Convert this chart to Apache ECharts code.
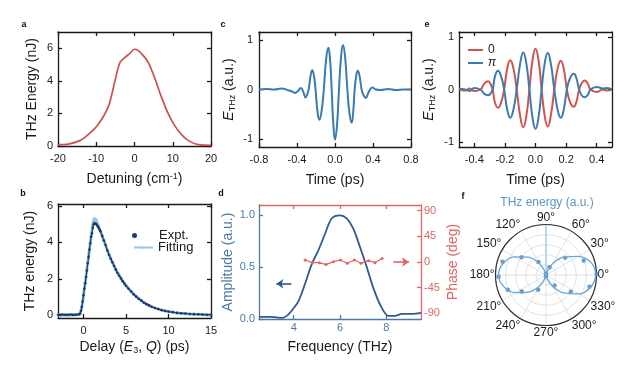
<!DOCTYPE html>
<html><head><meta charset="utf-8">
<script src="https://cdn.jsdelivr.net/npm/echarts@6/dist/echarts.min.js"></script>
<style>html,body{margin:0;padding:0;background:#fff}#c{width:638px;height:368px}</style>
</head><body><div id="c"></div>
<script>
// ---------- data ----------
// panel a
const aDetuning = [-20,-17.3,-14.3,-12.1,-9.5,-6.8,-5.1,-3.8,-2.5,-1.2,0,1.0,2.3,3.6,5.4,7.1,8.9,10.6,12.3,14.1,16.7,20];
const aEnergy   = [0.08,0.12,0.33,0.70,1.32,2.45,4.0,5.13,5.44,5.69,5.94,5.86,5.55,5.13,4.1,2.97,1.94,1.22,0.70,0.33,0.08,0.04];
// panel b
const bDelay = [-3,-2.75,-2.5,-2.25,-2,-1.75,-1.5,-1.25,-1,-0.75,-0.5,-0.4,-0.3,-0.2,-0.1,0,0.1,0.2,0.3,0.4,0.5,0.6,0.7,0.8,0.9,1.0,1.1,1.2,1.3,1.4,1.5,1.6,1.7,1.8,1.9,2.0,2.2,2.4,2.6,2.8,3.0,3.2,3.4,3.6,3.8,4.0,4.2,4.4,4.6,4.8,5.0,5.3,5.6,5.9,6.2,6.5,6.8,7.1,7.4,7.7,8.0,8.4,8.8,9.2,9.6,10.0,10.5,11,11.5,12,12.5,13,13.5,14,14.5,15];
const bExpt  = [0.03,0.02,0.04,0.03,0.02,0.03,0.04,0.02,0.03,0.04,0.05,0.1,0.25,0.45,0.75,1.1,1.45,1.75,2.1,2.45,2.85,3.2,3.6,3.95,4.3,4.5,4.8,4.98,5.05,5.02,5.0,4.93,4.85,4.78,4.68,4.6,4.35,4.1,3.85,3.55,3.3,3.1,2.9,2.7,2.5,2.32,2.17,2.02,1.87,1.74,1.62,1.45,1.3,1.15,1.02,0.9,0.8,0.69,0.61,0.54,0.47,0.4,0.34,0.28,0.24,0.2,0.17,0.13,0.11,0.09,0.07,0.06,0.05,0.04,0.03,0.03];
const bFitDelay = [-3,-0.6,-0.4,-0.2,0,0.2,0.4,0.6,0.8,1.0,1.15,1.3,1.45,1.6,1.8,2.0,2.5,3,3.5,4,4.5,5,6,7,8,9,10,11,12,13,15];
const bFit      = [0.02,0.03,0.1,0.45,1.1,1.8,2.5,3.25,4.0,4.7,5.15,5.3,5.25,5.08,4.85,4.6,3.95,3.35,2.8,2.35,1.97,1.63,1.12,0.74,0.48,0.31,0.2,0.13,0.08,0.05,0.02];
// panel c
const cTime  = [-0.8,-0.72,-0.64,-0.56,-0.5,-0.45,-0.42,-0.39,-0.36,-0.335,-0.31,-0.293,-0.275,-0.257,-0.239,-0.222,-0.205,-0.185,-0.165,-0.141,-0.118,-0.094,-0.07,-0.052,-0.035,-0.017,0,0.021,0.042,0.063,0.084,0.107,0.13,0.152,0.175,0.191,0.207,0.223,0.239,0.259,0.28,0.302,0.323,0.342,0.36,0.393,0.43,0.48,0.56,0.64,0.72,0.8];
const cField = [0,0.01,0,0.02,-0.01,-0.04,-0.07,-0.03,0.03,-0.04,-0.16,-0.1,0.02,0.28,0.39,0.28,0.0,-0.43,-0.61,-0.43,0.0,0.6,0.84,0.6,0.0,-0.72,-1.01,-0.72,0.0,0.64,0.90,0.64,0.0,-0.47,-0.67,-0.47,0.0,0.27,0.38,0.27,0.0,-0.12,-0.17,-0.11,-0.03,0.04,0.0,-0.01,0.01,-0.01,0.0,0];
// panel e
const eTime    = [-0.5,-0.46,-0.43,-0.40,-0.36,-0.335,-0.31,-0.295,-0.28,-0.265,-0.245,-0.225,-0.205,-0.185,-0.165,-0.144,-0.123,-0.10,-0.08,-0.06,-0.04,-0.02,0,0.02,0.04,0.06,0.08,0.10,0.123,0.144,0.165,0.185,0.205,0.225,0.25,0.268,0.285,0.302,0.32,0.34,0.36,0.40,0.44,0.47,0.5];
const ePhase0  = [0.0,-0.02,0.02,-0.03,0.0,0.11,0.16,0.11,0.0,-0.25,-0.35,-0.25,0.0,0.40,0.56,0.40,0.0,-0.51,-0.72,-0.51,0.0,0.55,0.78,0.55,0.0,-0.50,-0.71,-0.50,0.0,0.39,0.55,0.39,0.0,-0.23,-0.33,-0.23,0.0,0.12,0.17,0.12,0.0,-0.05,0.0,-0.02,0.0];
const ePhasePi = [0.02,0.0,-0.03,0.03,0.0,-0.08,-0.11,-0.08,0.0,0.25,0.36,0.25,0.0,-0.38,-0.54,-0.38,0.0,0.50,0.71,0.50,0.0,-0.53,-0.75,-0.53,0.0,0.50,0.70,0.50,0.0,-0.38,-0.54,-0.38,0.0,0.21,0.30,0.21,0.0,-0.11,-0.15,-0.11,0.0,0.05,0.02,0.03,0.0];
// panel d
const dFreq = [2.5,3.05,3.48,3.7,3.91,4.2,4.49,4.78,5.06,5.35,5.64,6.0,6.29,6.58,6.87,7.16,7.44,7.73,8.09,8.38,8.67,9.1,9.5];
const dAmp  = [0.02,0.02,0.01,0.03,0.08,0.17,0.34,0.53,0.66,0.82,0.97,1.0,0.97,0.87,0.69,0.50,0.30,0.14,0.03,0.03,0.05,0.05,0.06];
const dPhaseFreq = [4.49,4.81,5.11,5.40,5.71,6.02,6.32,6.62,6.91,7.23,7.51,7.82];
const dPhaseDeg  = [3.5,-1.2,-1.2,-4.6,0.6,3.5,-2.3,3.5,-2.3,2.3,-1.2,6.3];
// panel f
const fAngle = [1,21,42,66,88,120,144,163,182,201,214,242,268,309,326,345];
const fEnergy = [1.0,0.80,0.51,0.17,0.03,0.30,0.60,0.90,0.94,0.81,0.58,0.33,0.03,0.27,0.59,0.89];
const fFitAngle = [0,15,30,45,60,75,90,105,120,135,150,165,180,195,210,225,240,255,270,285,300,315,330,345,360];
const fFitEnergy = [0.99,0.93,0.74,0.5,0.25,0.07,0,0.07,0.25,0.5,0.72,0.88,0.94,0.87,0.7,0.47,0.24,0.07,0,0.07,0.25,0.5,0.75,0.92,0.99];

// ticks
const aXTicks = [-20,-10,0,10,20], aYTicks = [0,2,4,6];
const bXTicks = [0,5,10,15], bYTicks = [0,2,4,6];
const cXTicks = [-0.8,-0.4,0,0.4,0.8], cYTicks = [-1,0,1];
const eXTicks = [-0.4,-0.2,0,0.2,0.4], eYTicks = [-1,0,1];
const dXTicks = [4,6,8], dYTicks = [0,0.5,1.0], dPhaseTicks = [-90,-45,0,45,90];

// ---------- helpers ----------
const FONT = 'Liberation Sans, Arial, sans-serif';
const BLACK = '#1a1a1a';
const zip = (xs, ys) => xs.map((x, i) => [x, ys[i]]);
const nameStyle = (extra) => Object.assign({fontSize: 14, color: BLACK, fontFamily: FONT}, extra || {});
const richSub = {
  i: {fontStyle: 'italic', fontSize: 14, color: BLACK, fontFamily: FONT},
  s: {fontSize: 9, verticalAlign: 'bottom', color: BLACK, fontFamily: FONT, padding: [6, 0, 0, 0]},
  sup: {fontSize: 9, verticalAlign: 'top', color: BLACK, fontFamily: FONT, padding: [0, 0, 5, 0]}
};

function xAx(gi, min, max, ticks, o) {
  o = o || {};
  const lc = o.lineColor || BLACK;
  const top = o.pos === 'top';
  return {
    gridIndex: gi, type: 'value', min: min, max: max, position: top ? 'top' : 'bottom',
    axisLine: {show: true, onZero: false, lineStyle: {color: lc, width: 1.3}},
    axisTick: {show: true, inside: true, length: 4, customValues: ticks, lineStyle: {color: lc, width: 1.3}},
    axisLabel: {show: !top, customValues: ticks, color: o.labelColor || BLACK, fontSize: 11, fontFamily: FONT, margin: o.margin || 7, formatter: o.fmt},
    splitLine: {show: false},
    name: o.name || '', nameLocation: 'middle', nameGap: o.gap || 25, nameTextStyle: nameStyle({rich: richSub})
  };
}
function yAx(gi, min, max, ticks, o) {
  o = o || {};
  const lc = o.lineColor || BLACK;
  const right = o.pos === 'right';
  return {
    gridIndex: gi, type: 'value', min: min, max: max, position: right ? 'right' : 'left',
    axisLine: {show: true, onZero: false, lineStyle: {color: lc, width: 1.3}},
    axisTick: {show: true, inside: true, length: 4, customValues: ticks, lineStyle: {color: lc, width: 1.3}},
    axisLabel: {show: !!o.showLabel || !right, customValues: ticks, color: o.labelColor || BLACK, fontSize: 11, fontFamily: FONT, margin: o.margin || 5, formatter: o.fmt},
    splitLine: {show: false},
    name: o.name || '', nameLocation: 'middle', nameGap: o.gap || 20,
    nameTextStyle: nameStyle(Object.assign({rich: richSub}, o.nameColor ? {color: o.nameColor} : {}))
  };
}
const f1 = v => v.toFixed(1);
const letter = (t, x, y) => ({type: 'text', x: x, y: y, style: {text: t, fontSize: 9, fontWeight: 'bold', fontFamily: FONT, fill: '#111', align: 'center', verticalAlign: 'middle', textAlign: 'center', textVerticalAlign: 'middle'}});

const RED = '#cf5450', BLUE = '#3b7bb0';
const D_BLUE = '#2d5b8e', D_AXBLUE = '#4c79a8', D_RED = '#de6663';

const option = {
  animation: false,
  backgroundColor: '#fff',
  textStyle: {fontFamily: FONT},
  grid: [
    {left: 58, top: 32, width: 153, height: 114},
    {left: 259, top: 32, width: 152, height: 115},
    {left: 459, top: 32, width: 153, height: 115},
    {left: 58, top: 204, width: 153, height: 114},
    {left: 259, top: 205, width: 162, height: 114}
  ],
  xAxis: [
    xAx(0, -20, 20, aXTicks, {name: 'Detuning (cm{sup|-1})', gap: 26}),
    xAx(0, -20, 20, aXTicks, {pos: 'top'}),
    xAx(1, -0.8, 0.8, cXTicks, {name: 'Time (ps)', gap: 26, fmt: f1}),
    xAx(1, -0.8, 0.8, cXTicks, {pos: 'top'}),
    xAx(2, -0.5, 0.5, eXTicks, {name: 'Time (ps)', gap: 26, fmt: f1}),
    xAx(2, -0.5, 0.5, eXTicks, {pos: 'top'}),
    xAx(3, -3, 15, bXTicks, {name: 'Delay ({i|E}{s|3}, {i|Q}) (ps)', gap: 22}),
    xAx(3, -3, 15, bXTicks, {pos: 'top'}),
    xAx(4, 2.5, 9.5, dXTicks, {name: 'Frequency (THz)', gap: 21, margin: 3, lineColor: D_AXBLUE, labelColor: D_AXBLUE}),
    xAx(4, 2.5, 9.5, dXTicks, {pos: 'top', lineColor: D_RED})
  ],
  yAxis: [
    yAx(0, 0, 7, aYTicks, {name: 'THz Energy (nJ)', gap: 19}),
    yAx(0, 0, 7, aYTicks, {pos: 'right'}),
    yAx(1, -1.16, 1.16, cYTicks, {name: '{i|E}{s|THz} (a.u.)', gap: 22, margin: 6}),
    yAx(1, -1.16, 1.16, cYTicks, {pos: 'right'}),
    yAx(2, -1.1, 1.1, eYTicks, {name: '{i|E}{s|THz} (a.u.)', gap: 22}),
    yAx(2, -1.1, 1.1, eYTicks, {pos: 'right'}),
    yAx(3, -0.15, 6.1, bYTicks, {name: 'THz energy (nJ)', gap: 21}),
    yAx(3, -0.15, 6.1, bYTicks, {pos: 'right'}),
    yAx(4, 0, 1.1, dYTicks, {name: 'Amplitude (a.u.)', gap: 24, margin: 4, fmt: f1, lineColor: D_AXBLUE, labelColor: D_AXBLUE, nameColor: D_AXBLUE}),
    yAx(4, -100, 100, dPhaseTicks, {pos: 'right', showLabel: true, name: 'Phase (deg)', gap: 25, margin: 3, lineColor: D_RED, labelColor: D_RED, nameColor: D_RED})
  ],
  polar: {center: [546, 275], radius: 50.5},
  angleAxis: {
    type: 'value', min: 0, max: 360, interval: 30, startAngle: 0, clockwise: false,
    axisLine: {lineStyle: {color: '#333', width: 1.2}},
    axisTick: {show: false},
    axisLabel: {formatter: v => (v === 360 ? '' : v + '°'), fontSize: 12, color: BLACK, fontFamily: FONT, margin: 1},
    splitLine: {lineStyle: {color: '#dadada', width: 0.8}}
  },
  radiusAxis: {
    type: 'value', min: 0, max: 1, interval: 0.2,
    axisLine: {show: false}, axisTick: {show: false}, axisLabel: {show: false},
    splitLine: {lineStyle: {color: '#dadada', width: 0.8}}
  },
  legend: [
    {data: [{name: 'Expt.', icon: 'circle'}], left: 127, top: 224, itemWidth: 5, itemHeight: 5,
     textStyle: {fontSize: 13, color: BLACK, fontFamily: FONT, padding: [0, 0, 0, 17]}},
    {data: ['Fitting'], left: 128, top: 236, itemWidth: 19, itemHeight: 3,
     textStyle: {fontSize: 13, color: BLACK, fontFamily: FONT}},
    {data: ['0', 'π'], orient: 'vertical', left: 462, top: 39, itemWidth: 15, itemHeight: 3, itemGap: 1,
     formatter: n => (n === 'π' ? '{i|π}' : n),
     textStyle: {fontSize: 12, color: BLACK, fontFamily: FONT, rich: {i: {fontStyle: 'italic', fontSize: 12, color: BLACK}}}}
  ],
  graphic: [
    letter('a', 24, 25), letter('c', 223, 25), letter('e', 427, 25),
    letter('b', 23, 194), letter('d', 221, 194), letter('f', 463, 197),
    {type: 'text', x: 547, y: 203, style: {text: 'THz energy (a.u.)', fontSize: 12, fontFamily: FONT, fill: '#5b96c4', align: 'center', verticalAlign: 'middle', textAlign: 'center', textVerticalAlign: 'middle'}}
  ],
  series: [
    {type: 'line', xAxisIndex: 0, yAxisIndex: 0, data: zip(aDetuning, aEnergy), smooth: 0.3, symbol: 'none',
     lineStyle: {color: '#c9524e', width: 1.7}},
    {type: 'line', xAxisIndex: 2, yAxisIndex: 2, data: zip(cTime, cField), smooth: 0.5, symbol: 'none',
     lineStyle: {color: BLUE, width: 2}},
    {name: '0', type: 'line', xAxisIndex: 4, yAxisIndex: 4, data: zip(eTime, ePhase0), smooth: 0.5, symbol: 'none',
     itemStyle: {color: RED}, lineStyle: {color: RED, width: 2}},
    {name: 'π', type: 'line', xAxisIndex: 4, yAxisIndex: 4, data: zip(eTime, ePhasePi), smooth: 0.5, symbol: 'none',
     itemStyle: {color: BLUE}, lineStyle: {color: BLUE, width: 2}},
    {name: 'Fitting', type: 'line', xAxisIndex: 6, yAxisIndex: 6, data: zip(bFitDelay, bFit), smooth: 0.4, symbol: 'none',
     itemStyle: {color: '#9ec4e3'}, lineStyle: {color: '#9ec4e3', width: 3}},
    {name: 'Expt.', type: 'line', xAxisIndex: 6, yAxisIndex: 6, data: zip(bDelay, bExpt), smooth: 0.3,
     symbol: 'circle', symbolSize: 2.6, showSymbol: true,
     itemStyle: {color: '#1c3b68'}, lineStyle: {color: '#1c3b68', width: 1.2}},
    {type: 'line', xAxisIndex: 8, yAxisIndex: 8, data: zip(dFreq, dAmp), smooth: 0.3, symbol: 'none',
     lineStyle: {color: D_BLUE, width: 1.8},
     markLine: {silent: true, symbol: ['none', 'arrow'], symbolSize: 7, label: {show: false},
       lineStyle: {color: D_BLUE, width: 1.6, type: 'solid'},
       data: [[{coord: [3.9, 0.34]}, {coord: [3.25, 0.34]}]]}},
    {type: 'line', xAxisIndex: 8, yAxisIndex: 9, data: zip(dPhaseFreq, dPhaseDeg), symbol: 'circle', symbolSize: 3,
     itemStyle: {color: D_RED}, lineStyle: {color: D_RED, width: 1.2},
     markLine: {silent: true, symbol: ['none', 'arrow'], symbolSize: 7, label: {show: false},
       lineStyle: {color: D_RED, width: 1.6, type: 'solid'},
       data: [[{coord: [8.3, 0]}, {coord: [8.98, 0]}]]}},
    {type: 'line', coordinateSystem: 'polar', data: [[0, 90], [1, 90]], symbol: 'none',
     lineStyle: {color: '#8dbbdd', width: 1}},
    {type: 'line', coordinateSystem: 'polar', data: fFitAngle.map((a, i) => [fFitEnergy[i], a]), smooth: 0.4, symbol: 'none',
     lineStyle: {color: '#6aa5d4', width: 1.3}},
    {type: 'scatter', coordinateSystem: 'polar', data: fAngle.map((a, i) => [fEnergy[i], a]), symbolSize: 4.5,
     itemStyle: {color: '#4a86bb'}}
  ]
};
const chart = echarts.init(document.getElementById('c'));
chart.setOption(option);
</script>
</body></html>
